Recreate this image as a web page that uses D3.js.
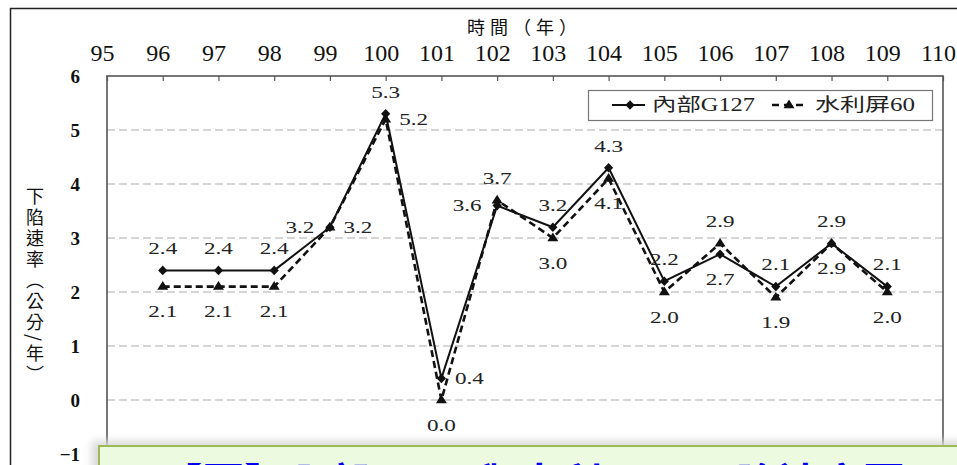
<!DOCTYPE html>
<html>
<head>
<meta charset="utf-8">
<script src="https://cdn.jsdelivr.net/npm/d3@7/dist/d3.min.js"></script>
<style>
  body { margin: 0; background: #fff; }
  text { font-family: "Liberation Serif", "Noto Sans CJK TC", serif; }
</style>
</head>
<body>
<div id="chart"></div>
<script>
// years (民國) and subsidence rate, cm/yr
var years = [96, 97, 98, 99, 100, 101, 102, 103, 104, 105, 106, 107, 108, 109];
var g127 = [2.4, 2.4, 2.4, 3.2, 5.3, 0.4, 3.6, 3.2, 4.3, 2.2, 2.7, 2.1, 2.9, 2.1];
var ping60 = [2.1, 2.1, 2.1, 3.2, 5.2, 0.0, 3.7, 3.0, 4.1, 2.0, 2.9, 1.9, 2.9, 2.0];
var xTicks = [95, 96, 97, 98, 99, 100, 101, 102, 103, 104, 105, 106, 107, 108, 109, 110];
var yTicks = [-1, 0, 1, 2, 3, 4, 5, 6];
var seriesNames = ['內部G127', '水利屏60'];

// where each value label sits relative to its point
var g127LabelSide = ['above', 'above', 'above', 'left', 'above', 'right', 'left', 'above', 'above', 'above', 'below', 'above', 'above', 'above'];
var ping60LabelSide = ['below', 'below', 'below', 'right', 'right', 'below', 'above', 'below', 'below', 'below', 'above', 'below', 'below', 'below'];

var width = 957, height = 465;
var plotL = 107, plotR = 943, plotT = 76, plotB = 454;

var svg = d3.select('#chart').append('svg')
  .attr('width', width)
  .attr('height', height);

var x = d3.scaleLinear().domain([95, 110]).range([plotL, plotR]);
var y = d3.scaleLinear().domain([-1, 6]).range([plotB, plotT]);

// outer frame
svg.append('rect')
  .attr('x', 10.5).attr('y', 8.5)
  .attr('width', 980).attr('height', 500)
  .attr('fill', 'none').attr('stroke', '#222').attr('stroke-width', 1.5);

// grid
svg.append('g').selectAll('line')
  .data(yTicks.filter(function (d) { return d >= 0 && d < 6; }))
  .enter().append('line')
  .attr('x1', plotL).attr('x2', plotR)
  .attr('y1', function (d) { return y(d); })
  .attr('y2', function (d) { return y(d); })
  .attr('stroke', '#c8c8c8').attr('stroke-width', 1.3)
  .attr('stroke-dasharray', '8,4');

// plot frame
svg.append('rect')
  .attr('x', plotL).attr('y', plotT)
  .attr('width', plotR - plotL).attr('height', plotB - plotT)
  .attr('fill', 'none').attr('stroke', '#555').attr('stroke-width', 1.6);

// top axis (years)
var xAxis = d3.axisTop(x)
  .tickValues(xTicks)
  .tickSizeInner(-5)
  .tickSizeOuter(0)
  .tickPadding(15)
  .tickFormat(d3.format('d'));

var gx = svg.append('g')
  .attr('transform', 'translate(0,' + plotT + ')')
  .call(xAxis);
gx.select('.domain').remove();
gx.selectAll('line').attr('stroke', '#555').attr('stroke-width', 1.2);
gx.selectAll('text')
  .attr('x', -5)
  .attr('fill', '#111')
  .style('font-size', '24px')
  .style('font-family', '"Liberation Serif", serif');

// left axis (values)
var yAxis = d3.axisLeft(y)
  .tickValues(yTicks)
  .tickSize(0)
  .tickPadding(27)
  .tickFormat(d3.format('d'));

var gy = svg.append('g')
  .attr('transform', 'translate(' + plotL + ',0)')
  .call(yAxis);
gy.select('.domain').remove();
gy.selectAll('text')
  .attr('fill', '#111')
  .style('font-size', '19px')
  .style('font-weight', 'bold')
  .style('font-family', '"Liberation Serif", serif');

// axis titles
svg.append('text')
  .attr('x', 467).attr('y', 34)
  .style('font-size', '18px')
  .style('letter-spacing', '5px')
  .style('font-family', '"Noto Sans CJK TC", sans-serif')
  .attr('fill', '#111')
  .text('時間（年）');

svg.append('text')
  .attr('x', 35).attr('y', 187)
  .style('writing-mode', 'vertical-rl')
  .style('font-size', '18px')
  .style('letter-spacing', '3px')
  .style('font-family', '"Noto Sans CJK TC", sans-serif')
  .attr('fill', '#111')
  .text('下陷速率（公分/年）');

// lines
var line = d3.line()
  .x(function (d) { return x(d.year); })
  .y(function (d) { return y(d.v); });

function rows(values, sides) {
  return years.map(function (yr, i) { return { year: yr, v: values[i], side: sides[i] }; });
}
var solidRows = rows(g127, g127LabelSide);
var dashRows = rows(ping60, ping60LabelSide);

var diamond = 'M0,-4.8L4.6,0L0,4.8L-4.6,0Z';
var triangle = 'M0,-5.5L5.5,3.2L-5.5,3.2Z';

svg.append('path')
  .datum(dashRows)
  .attr('d', line)
  .attr('fill', 'none').attr('stroke', '#111')
  .attr('stroke-width', 2.6).attr('stroke-dasharray', '7,4');

svg.append('path')
  .datum(solidRows)
  .attr('d', line)
  .attr('fill', 'none').attr('stroke', '#111').attr('stroke-width', 2);

svg.append('g').selectAll('path')
  .data(dashRows)
  .enter().append('path')
  .attr('d', triangle)
  .attr('transform', function (d) { return 'translate(' + x(d.year) + ',' + y(d.v) + ')'; })
  .attr('fill', '#111');

svg.append('g').selectAll('path')
  .data(solidRows)
  .enter().append('path')
  .attr('d', diamond)
  .attr('transform', function (d) { return 'translate(' + x(d.year) + ',' + y(d.v) + ')'; })
  .attr('fill', '#111');

// value labels
var offsets = {
  above: [0, -22],
  below: [0, 25],
  left: [-30, 0],
  right: [28, 0]
};
function labels(data) {
  svg.append('g').selectAll('text')
    .data(data)
    .enter().append('text')
    .attr('transform', function (d) {
      var o = offsets[d.side];
      return 'translate(' + (x(d.year) + o[0]) + ',' + (y(d.v) + o[1]) + ') scale(1.36,1)';
    })
    .attr('text-anchor', 'middle')
    .attr('dominant-baseline', 'central')
    .style('font-size', '17px')
    .attr('fill', '#222')
    .text(function (d) { return d.v.toFixed(1); });
}
labels(solidRows);
labels(dashRows);

// legend
var lg = svg.append('g');
lg.append('rect')
  .attr('x', 588.5).attr('y', 90.5)
  .attr('width', 344).attr('height', 30)
  .attr('fill', '#fff').attr('stroke', '#777').attr('stroke-width', 1.2);
lg.append('line')
  .attr('x1', 612).attr('x2', 645).attr('y1', 105).attr('y2', 105)
  .attr('stroke', '#111').attr('stroke-width', 2);
lg.append('path').attr('d', diamond).attr('transform', 'translate(630,105)').attr('fill', '#111');
lg.append('text')
  .attr('x', 652).attr('y', 111)
  .attr('textLength', 103).attr('lengthAdjust', 'spacingAndGlyphs')
  .style('font-size', '18px').attr('fill', '#222')
  .text(seriesNames[0]);
lg.append('line')
  .attr('x1', 772).attr('x2', 807).attr('y1', 105).attr('y2', 105)
  .attr('stroke', '#111').attr('stroke-width', 2.4).attr('stroke-dasharray', '7,5');
lg.append('path').attr('d', triangle).attr('transform', 'translate(789,105)').attr('fill', '#111');
lg.append('text')
  .attr('x', 815).attr('y', 111)
  .attr('textLength', 100).attr('lengthAdjust', 'spacingAndGlyphs')
  .style('font-size', '18px').attr('fill', '#222')
  .text(seriesNames[1]);

// slide caption box overlapping the bottom of the chart
var defs = svg.append('defs');
defs.append('filter').attr('id', 'shadow')
  .attr('x', '-20%').attr('y', '-50%').attr('width', '140%').attr('height', '200%')
  .append('feGaussianBlur').attr('stdDeviation', 4);
svg.append('rect')
  .attr('x', 92).attr('y', 441)
  .attr('width', 900).attr('height', 40)
  .attr('fill', '#d8d8d8').attr('filter', 'url(#shadow)');
svg.append('rect')
  .attr('x', 99).attr('y', 446)
  .attr('width', 900).attr('height', 40)
  .attr('fill', '#ecfadf').attr('stroke', '#9bbb59').attr('stroke-width', 2);
svg.append('text')
  .attr('x', 160).attr('y', 497)
  .attr('textLength', 745).attr('lengthAdjust', 'spacingAndGlyphs')
  .style('font-size', '40px').style('font-weight', 'bold')
  .style('font-family', '"Noto Sans CJK TC", sans-serif')
  .attr('fill', '#0000ee')
  .text('【圖】內部G127與水利屏60下陷速率圖');
</script>
</body>
</html>
